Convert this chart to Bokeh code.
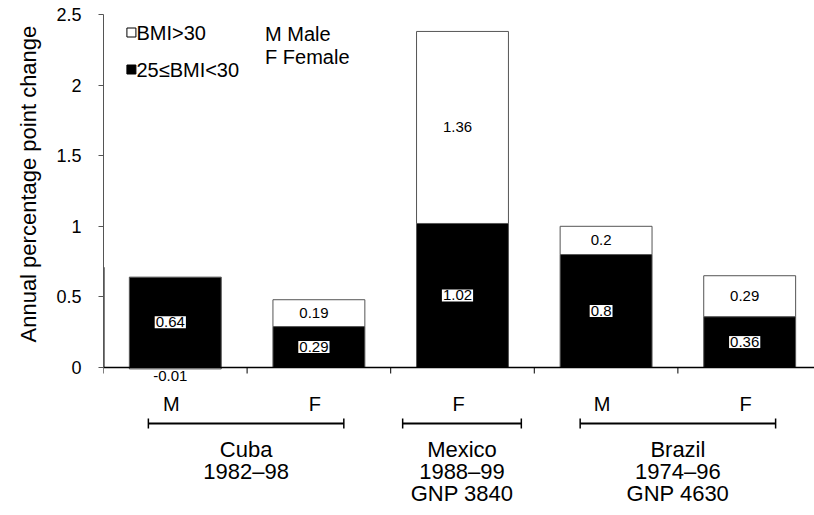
import numpy as np
from bokeh.plotting import figure
from bokeh.models import Range1d, FixedTicker, ColumnDataSource, Title
from bokeh.core.properties import value
from bokeh.embed import file_html
from bokeh.resources import INLINE

# ---- data ----
sex = ["M", "F", "F", "M", "F"]
bmi_25_30 = [0.64, 0.29, 1.02, 0.80, 0.36]
bmi_30 = [-0.01, 0.19, 1.36, 0.20, 0.29]
country_lines = [["Cuba", "1982\u201398"],
                 ["Mexico", "1988\u201399", "GNP 3840"],
                 ["Brazil", "1974\u201396", "GNP 4630"]]
country_bars = [[0, 1], [2], [3, 4]]
y_ticks = [0, 0.5, 1, 1.5, 2, 2.5]
y_tick_labels = ["0", "0.5", "1", "1.5", "2", "2.5"]
legend_labels = ["BMI>30", "25\u2264BMI<30"]
key_labels = ["M Male", "F Female"]

# ---- layout ----
FONT = "Liberation Sans"
W, H = 814, 515
LEFT = 101
PX_X = 144.0     # px per category
PX_Y = 141.2     # px per unit
frame_w = W - LEFT
ytop = 2.5 + 14 / PX_Y
ybot = ytop - H / PX_Y
xend = frame_w / PX_X

def dy(px):
    return px / PX_Y

def dx(px):
    return px / PX_X

p = figure(width=W, height=H, output_backend="svg", toolbar_location=None,
           x_range=Range1d(0, xend), y_range=Range1d(ybot, ytop),
           min_border_left=LEFT, min_border_top=0, min_border_right=0,
           min_border_bottom=0)
p.outline_line_color = None
p.grid.visible = False
p.xaxis.visible = False
p.background_fill_color = "white"

ya = p.yaxis[0]
ya.bounds = (0, 2.5)
ya.ticker = FixedTicker(ticks=y_ticks)
ya.major_label_overrides = {t: l for t, l in zip(y_ticks, y_tick_labels)}
ya.axis_line_color = "#555555"
ya.axis_line_width = 1
ya.major_tick_line_color = "#555555"
ya.major_tick_out = 5
ya.major_tick_in = 0
ya.minor_tick_line_color = None
ya.major_label_text_font = FONT
ya.major_label_text_font_size = "18px"
ya.major_label_text_color = "black"
ya.major_label_standoff = 17

ytitle = Title(text="Annual percentage point change", align="left", offset=173,
               text_font=FONT, text_font_size="22px", text_font_style="normal",
               text_color="black", standoff=26)
p.add_layout(ytitle, "left")

n = len(sex)
xc = np.arange(n) + 0.5
b = np.array(bmi_25_30)
w_ = np.array(bmi_30)
w_bottom = np.where(w_ >= 0, b, 0.0)
w_top = w_bottom + w_

# darker stretch on the axis line (as in the reference)
p.segment(x0=[0], y0=[0], x1=[0], y1=[0.71], line_color="black", line_width=2)

BAR_W = 0.64
p.vbar(x=xc, bottom=0, top=b, width=BAR_W, fill_color="black", line_color="#555555", line_width=1)
p.vbar(x=xc, bottom=w_bottom, top=w_top, width=BAR_W, fill_color="white", line_color="#555555", line_width=1)

# x axis line and ticks
p.segment(x0=[0], y0=[0], x1=[xend], y1=[0], line_color="black", line_width=1.5)
bx = np.arange(n + 1)
p.segment(x0=bx, y0=np.zeros(n + 1), x1=bx, y1=np.full(n + 1, -dy(6)), line_color="black", line_width=1)

# value labels
src_b = ColumnDataSource(dict(x=xc, y=b / 2, t=[f"{v:g}" for v in b]))
p.text(x="x", y="y", text="t", source=src_b, text_font=value(FONT), text_font_size=value("15px"),
       text_align="center", text_baseline="middle", x_offset=-5, text_color="black",
       background_fill_color="white", padding=1)
pos = w_ >= 0
wy = np.where(pos, w_bottom + w_ / 2, -dy(8))
src_w = ColumnDataSource(dict(x=xc, y=wy, t=[f"{v:g}" for v in w_]))
p.text(x="x", y="y", text="t", source=src_w, text_font=value(FONT), text_font_size=value("15px"),
       text_align="center", text_baseline="middle", x_offset=-5, text_color="black")

# sex labels
p.text(x=xc, y=np.full(n, -dy(36)), text=sex, text_font=value(FONT), text_font_size=value("20px"),
       text_align="center", text_baseline="middle", x_offset=-4, text_color="black")

# country brackets and labels
pad = [(dx(27), dx(25)), (dx(60), dx(59)), (dx(26), dx(26))]
yb = -dy(56)
for bars, lines, (pl, pr) in zip(country_bars, country_lines, pad):
    x0 = xc[bars[0]] - pl
    x1 = xc[bars[-1]] + pr
    p.segment(x0=[x0], y0=[yb], x1=[x1], y1=[yb], line_color="black", line_width=2)
    p.segment(x0=[x0, x1], y0=[yb - dy(5)] * 2, x1=[x0, x1], y1=[yb + dy(5)] * 2,
              line_color="black", line_width=1.5)
    cx = (x0 + x1) / 2
    ys = [-dy(82 + 22 * i) for i in range(len(lines))]
    p.text(x=[cx] * len(lines), y=ys, text=lines, text_font=value(FONT), text_font_size=value("22px"),
           text_align="center", text_baseline="middle", text_color="black")

# legend
lx = dx(28)
ly = [2.5 - dy(18), 2.5 - dy(55)]
p.scatter(x=[lx, lx], y=ly, marker="square", size=9, fill_color=["white", "black"],
          line_color="black", line_width=1)
p.text(x=[lx + dx(5)] * 2, y=ly, text=legend_labels, text_font=value(FONT),
       text_font_size=value("20px"), text_align="left", text_baseline="middle", text_color="black")
p.text(x=[dx(162)] * 2, y=[2.5 - dy(19), 2.5 - dy(42)], text=key_labels,
       text_font=value(FONT), text_font_size=value("20px"), text_align="left",
       text_baseline="middle", text_color="black")

open("out.html", "w").write(file_html(p, INLINE))
